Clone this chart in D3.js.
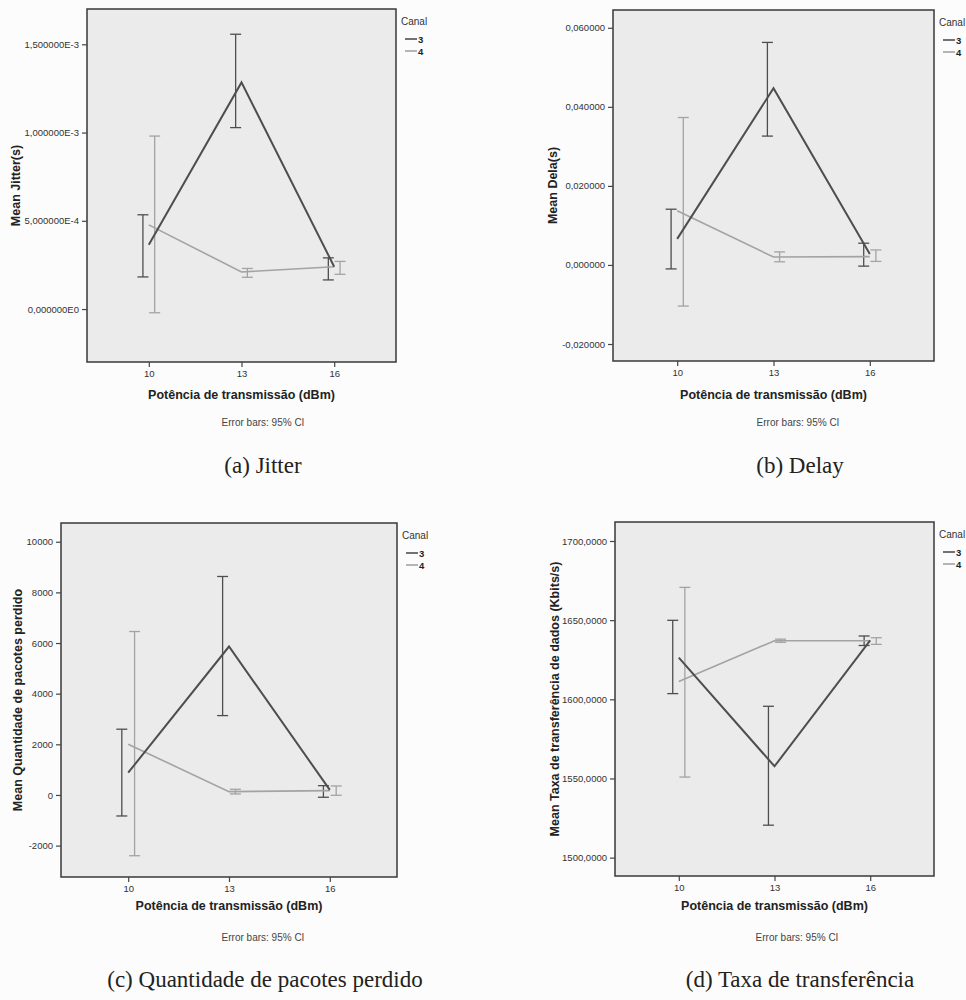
<!DOCTYPE html>
<html>
<head>
<meta charset="utf-8">
<script src="https://cdn.jsdelivr.net/npm/d3@7"></script>
<style>
  body { margin: 0; background: #fcfcfc; }
  svg { display: block; font-family: "Liberation Sans", Arial, sans-serif; }
</style>
</head>
<body>
<svg id="page" width="966" height="1000"></svg>
<script>
const powers = [10, 13, 16];
const channels = ["3", "4"];

// (a) Jitter
const jitterMean3 = [3.64e-4, 1.284e-3, 2.4e-4];
const jitterLow3 = [1.82e-4, 1.028e-3, 1.65e-4];
const jitterHigh3 = [5.34e-4, 1.557e-3, 2.9e-4];
const jitterMean4 = [4.77e-4, 2.1e-4, 2.4e-4];
const jitterLow4 = [-2.1e-5, 1.8e-4, 1.97e-4];
const jitterHigh4 = [9.8e-4, 2.3e-4, 2.7e-4];
const jitterTicks = [0, 5e-4, 1e-3, 1.5e-3];
const jitterTickLabels = ["0,000000E0", "5,000000E-4", "1,000000E-3", "1,500000E-3"];

// (b) Delay
const delayMean3 = [0.0066, 0.0447, 0.0028];
const delayLow3 = [-0.0010, 0.0326, -0.0003];
const delayHigh3 = [0.0141, 0.0563, 0.0055];
const delayMean4 = [0.0137, 0.0020, 0.0021];
const delayLow4 = [-0.0104, 0.0008, 0.0009];
const delayHigh4 = [0.0373, 0.0033, 0.0038];
const delayTicks = [-0.02, 0, 0.02, 0.04, 0.06];
const delayTickLabels = ["-0,020000", "0,000000", "0,020000", "0,040000", "0,060000"];

// (c) Pacotes perdidos
const lostMean3 = [880, 5862, 198];
const lostLow3 = [-830, 3134, -91];
const lostHigh3 = [2597, 8628, 368];
const lostMean4 = [2004, 130, 170];
const lostLow4 = [-2400, 40, -13];
const lostHigh4 = [6454, 225, 356];
const lostTicks = [-2000, 0, 2000, 4000, 6000, 8000, 10000];
const lostTickLabels = ["-2000", "0", "2000", "4000", "6000", "8000", "10000"];

// (d) Taxa de transferência
const rateMean3 = [1626.3, 1557.7, 1637.2];
const rateLow3 = [1603.6, 1520.5, 1634.0];
const rateHigh3 = [1649.9, 1595.6, 1640.0];
const rateMean4 = [1611.2, 1637.0, 1637.0];
const rateLow4 = [1550.9, 1636.0, 1634.7];
const rateHigh4 = [1670.7, 1638.0, 1638.9];
const rateTicks = [1500, 1550, 1600, 1650, 1700];
const rateTickLabels = ["1500,0000", "1550,0000", "1600,0000", "1650,0000", "1700,0000"];

const colors = { "3": "#4e4e4e", "4": "#a3a3a3" };

function series(m3, l3, h3, m4, l4, h4) {
    return channels.map(c => {
        const m = c === "3" ? m3 : m4, l = c === "3" ? l3 : l4, h = c === "3" ? h3 : h4;
        return { canal: c, points: powers.map((p, i) => ({ x: p, mean: m[i], low: l[i], high: h[i] })) };
    });
}

class ErrorLineChart {
    constructor(config, data) {
        this.config = {
            parent: config.parent,
            box: config.box,            // [left, top, right, bottom]
            yDomain: config.yDomain,
            yTicks: config.yTicks,
            yTickLabels: config.yTickLabels,
            yLabel: config.yLabel,
            yLabelX: config.yLabelX,
            xLabelY: config.xLabelY,
            noteX: config.noteX,
            noteY: config.noteY,
            caption: config.caption,
            captionX: config.captionX,
            captionY: config.captionY
        };
        this.data = data;
        this.init();
    }

    init() {
        let self = this;
        const [l, t, r, b] = self.config.box;
        self.g = d3.select(self.config.parent).append("g");

        self.x = d3.scaleLinear().domain([8, 18]).range([l, r]);
        self.y = d3.scaleLinear().domain(self.config.yDomain).range([b, t]);

        self.g.append("rect")
            .attr("x", l).attr("y", t)
            .attr("width", r - l).attr("height", b - t)
            .attr("fill", "#ebebeb")
            .attr("stroke", "#383838")
            .attr("stroke-width", 1.5);

        self.render();
    }

    render() {
        let self = this;
        const [l, t, r, b] = self.config.box;

        const yAxis = d3.axisLeft(self.y)
            .tickValues(self.config.yTicks)
            .tickFormat((d, i) => self.config.yTickLabels[i])
            .tickSize(5).tickSizeOuter(0);
        const ya = self.g.append("g").attr("transform", `translate(${l},0)`).call(yAxis);
        ya.select(".domain").remove();

        const xAxis = d3.axisBottom(self.x)
            .tickValues(powers)
            .tickSize(5).tickSizeOuter(0);
        const xa = self.g.append("g").attr("transform", `translate(0,${b})`).call(xAxis);
        xa.select(".domain").remove();

        self.g.selectAll(".tick line").attr("stroke", "#444").attr("stroke-width", 1.2);
        self.g.selectAll(".tick text")
            .attr("fill", "#333")
            .style("font-size", "9.5px");

        // error bars
        const dodge = { "3": -0.19, "4": 0.19 };
        const order = [self.data[1], self.data[0]];
        order.forEach(s => {
            const eb = self.g.append("g").attr("stroke", colors[s.canal]).attr("stroke-width", 1.3);
            const xs = d => self.x(d.x + dodge[s.canal]);
            eb.selectAll(".v").data(s.points).join("line")
                .attr("x1", xs).attr("x2", xs)
                .attr("y1", d => self.y(d.low)).attr("y2", d => self.y(d.high));
            ["low", "high"].forEach(k => {
                eb.selectAll(".c" + k).data(s.points).join("line")
                    .attr("x1", d => xs(d) - 5.5).attr("x2", d => xs(d) + 5.5)
                    .attr("y1", d => self.y(d[k])).attr("y2", d => self.y(d[k]));
            });
        });

        // mean lines
        const line = d3.line().x(d => self.x(d.x)).y(d => self.y(d.mean));
        order.forEach(s => {
            self.g.append("path")
                .datum(s.points)
                .attr("d", line)
                .attr("fill", "none")
                .attr("stroke", colors[s.canal])
                .attr("stroke-width", s.canal === "3" ? 2 : 1.6);
        });

        // legend
        const lg = self.g.append("g").attr("transform", `translate(${r},${t})`);
        lg.append("text").attr("x", 5).attr("y", 12)
            .attr("dominant-baseline", "central")
            .attr("fill", "#333").style("font-size", "10px").text("Canal");
        channels.forEach((c, i) => {
            lg.append("line").attr("x1", 9).attr("x2", 21)
                .attr("y1", 30 + i * 12).attr("y2", 30 + i * 12)
                .attr("stroke", colors[c]).attr("stroke-width", 1.6);
            lg.append("text").attr("x", 22).attr("y", 30 + i * 12)
                .attr("dominant-baseline", "central")
                .attr("fill", "#222").style("font-size", "9.5px").style("font-weight", "bold").text(c);
        });

        // axis titles
        self.g.append("text")
            .attr("transform", `translate(${self.config.yLabelX},${(t + b) / 2}) rotate(-90)`)
            .attr("text-anchor", "middle").attr("dominant-baseline", "central")
            .attr("fill", "#222").style("font-size", "12.5px").style("font-weight", "bold")
            .text(self.config.yLabel);

        self.g.append("text")
            .attr("x", (l + r) / 2).attr("y", self.config.xLabelY)
            .attr("text-anchor", "middle").attr("dominant-baseline", "central")
            .attr("fill", "#222").style("font-size", "12.5px").style("font-weight", "bold")
            .text("Potência de transmissão (dBm)");

        self.g.append("text")
            .attr("x", self.config.noteX).attr("y", self.config.noteY)
            .attr("text-anchor", "middle").attr("dominant-baseline", "central")
            .attr("fill", "#444").style("font-size", "10px")
            .text("Error bars: 95% CI");

        self.g.append("text")
            .attr("x", self.config.captionX).attr("y", self.config.captionY)
            .attr("text-anchor", "middle")
            .attr("fill", "#222")
            .style("font-family", "'Liberation Serif', 'Times New Roman', serif")
            .style("font-size", "23px")
            .text(self.config.caption);
    }
}

new ErrorLineChart({
    parent: "#page", box: [87, 9, 396, 362],
    yDomain: [-3e-4, 1.7e-3], yTicks: jitterTicks, yTickLabels: jitterTickLabels,
    yLabel: "Mean Jitter(s)", yLabelX: 16,
    xLabelY: 395, noteX: 263, noteY: 422,
    caption: "(a) Jitter", captionX: 263, captionY: 473
}, series(jitterMean3, jitterLow3, jitterHigh3, jitterMean4, jitterLow4, jitterHigh4));

new ErrorLineChart({
    parent: "#page", box: [613, 10, 934, 361],
    yDomain: [-0.0243, 0.0645], yTicks: delayTicks, yTickLabels: delayTickLabels,
    yLabel: "Mean Dela(s)", yLabelX: 553,
    xLabelY: 395, noteX: 798, noteY: 422,
    caption: "(b) Delay", captionX: 800, captionY: 473
}, series(delayMean3, delayLow3, delayHigh3, delayMean4, delayLow4, delayHigh4));

new ErrorLineChart({
    parent: "#page", box: [61, 523, 397, 877],
    yDomain: [-3240, 10740], yTicks: lostTicks, yTickLabels: lostTickLabels,
    yLabel: "Mean Quantidade de pacotes perdido", yLabelX: 18,
    xLabelY: 906, noteX: 263, noteY: 937,
    caption: "(c) Quantidade de pacotes perdido", captionX: 265, captionY: 987
}, series(lostMean3, lostLow3, lostHigh3, lostMean4, lostLow4, lostHigh4));

new ErrorLineChart({
    parent: "#page", box: [615, 522, 934, 876],
    yDomain: [1488.4, 1712], yTicks: rateTicks, yTickLabels: rateTickLabels,
    yLabel: "Mean Taxa de transferência de dados (Kbits/s)", yLabelX: 555,
    xLabelY: 906, noteX: 797, noteY: 937,
    caption: "(d) Taxa de transferência", captionX: 800, captionY: 987
}, series(rateMean3, rateLow3, rateHigh3, rateMean4, rateLow4, rateHigh4));
</script>
</body>
</html>
